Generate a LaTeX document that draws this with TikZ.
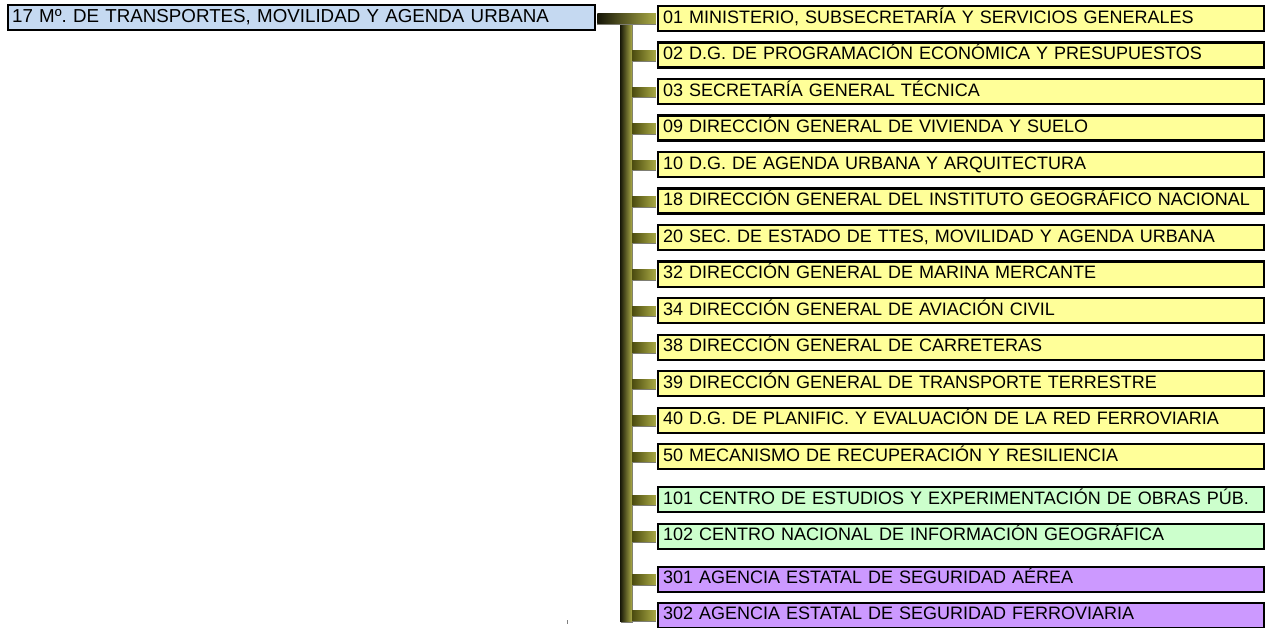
\documentclass[tikz,border=0pt]{standalone}
\usepackage{fontspec}
\setmainfont{Liberation Sans}
\usetikzlibrary{calc}
\frenchspacing
\definecolor{rootfill}{RGB}{197,217,241}
\definecolor{yfill}{RGB}{255,255,153}
\definecolor{gfill}{RGB}{204,255,204}
\definecolor{pfill}{RGB}{204,153,255}
\definecolor{bardark}{RGB}{75,75,15}
\definecolor{barmid}{RGB}{145,145,50}
\definecolor{barlight}{RGB}{170,170,70}
\definecolor{barshadow}{RGB}{125,125,115}
\begin{document}
\begin{tikzpicture}[x=1pt,y=-1pt,
  box/.style={draw=black,line width=2.2pt,anchor=north west,inner sep=0pt,
    minimum height=25pt,text height=12.5pt,text depth=3pt,
    font=\fontsize{18}{20}\selectfont,align=left,text width=#1},
  unit/.style={box=600pt,minimum width=606pt,text width=600pt},
  yel/.style={unit,fill=yfill},
  grn/.style={unit,fill=gfill},
  pur/.style={unit,fill=pfill},
  bar/.style={left color=bardark,right color=barlight},
  trunkbar/.style={left color=black!85!barmid,middle color=barmid,right color=barlight},
]
\useasboundingbox (0,0) rectangle (1268,628);
% root
\node[box=583pt,minimum width=587pt,text width=583pt,fill=rootfill,
  font=\fontsize{18.75}{21}\selectfont] (root) at (7,4)
  {\hspace*{2pt}17 Mº. DE TRANSPORTES, MOVILIDAD Y AGENDA URBANA};
% unit boxes
\def\ux{657}
\node[yel] (n01) at (\ux,5)     {\hspace*{2pt}01 MINISTERIO, SUBSECRETARÍA Y SERVICIOS GENERALES};
\node[yel] (n02) at (\ux,41.5)  {\hspace*{2pt}02 D.G. DE PROGRAMACIÓN ECONÓMICA Y PRESUPUESTOS};
\node[yel] (n03) at (\ux,78)    {\hspace*{2pt}03 SECRETARÍA GENERAL TÉCNICA};
\node[yel] (n09) at (\ux,114.5) {\hspace*{2pt}09 DIRECCIÓN GENERAL DE VIVIENDA Y SUELO};
\node[yel] (n10) at (\ux,151)   {\hspace*{2pt}10 D.G. DE AGENDA URBANA Y ARQUITECTURA};
\node[yel] (n18) at (\ux,187.5) {\hspace*{2pt}18 DIRECCIÓN GENERAL DEL INSTITUTO GEOGRÁFICO NACIONAL};
\node[yel] (n20) at (\ux,224)   {\hspace*{2pt}20 SEC. DE ESTADO DE TTES, MOVILIDAD Y AGENDA URBANA};
\node[yel] (n32) at (\ux,260.5) {\hspace*{2pt}32 DIRECCIÓN GENERAL DE MARINA MERCANTE};
\node[yel] (n34) at (\ux,297)   {\hspace*{2pt}34 DIRECCIÓN GENERAL DE AVIACIÓN CIVIL};
\node[yel] (n38) at (\ux,333.5) {\hspace*{2pt}38 DIRECCIÓN GENERAL DE CARRETERAS};
\node[yel] (n39) at (\ux,370)   {\hspace*{2pt}39 DIRECCIÓN GENERAL DE TRANSPORTE TERRESTRE};
\node[yel] (n40) at (\ux,406.5) {\hspace*{2pt}40 D.G. DE PLANIFIC. Y EVALUACIÓN DE LA RED FERROVIARIA};
\node[yel] (n50) at (\ux,443)   {\hspace*{2pt}50 MECANISMO DE RECUPERACIÓN Y RESILIENCIA};
\node[grn] (n101) at (\ux,486)  {\hspace*{2pt}101 CENTRO DE ESTUDIOS Y EXPERIMENTACIÓN DE OBRAS PÚB.};
\node[grn] (n102) at (\ux,522.5){\hspace*{2pt}102 CENTRO NACIONAL DE INFORMACIÓN GEOGRÁFICA};
\node[pur] (n301) at (\ux,565.5){\hspace*{2pt}301 AGENCIA ESTATAL DE SEGURIDAD AÉREA};
\node[pur] (n302) at (\ux,601.5){\hspace*{2pt}302 AGENCIA ESTATAL DE SEGURIDAD FERROVIARIA};
% trunk
\coordinate (ttop) at (620,22);
\coordinate (tbot) at (632,621);
\fill[barshadow] ($(ttop)+(1,1)$) rectangle ($(tbot)+(1,1.5)$);
\shade[trunkbar] (ttop) rectangle (tbot);
% root connector
\fill[barshadow] ($(root.east)+(1.1,5.5)$) rectangle ($(n01.west)+(-1.1,6.5)$);
\shade[left color=black!85!barmid,right color=barlight] ($(root.east)+(1.1,-4.5)$) rectangle ($(n01.west)+(-1.1,5)$);
% branches
\foreach \n in {n02,n03,n09,n10,n18,n20,n32,n34,n38,n39,n40,n50,n101,n102,n301,n302}{
  \fill[barshadow] ($(\n.west)+(-25,5)$) rectangle ($(\n.west)+(-1.1,6.5)$);
  \shade[bar] ($(\n.west)+(-25,-4.5)$) rectangle ($(\n.west)+(-1.1,5)$);
}
\draw[gray,line width=0.6pt] (567,620) -- (567,624);
\end{tikzpicture}
\end{document}
